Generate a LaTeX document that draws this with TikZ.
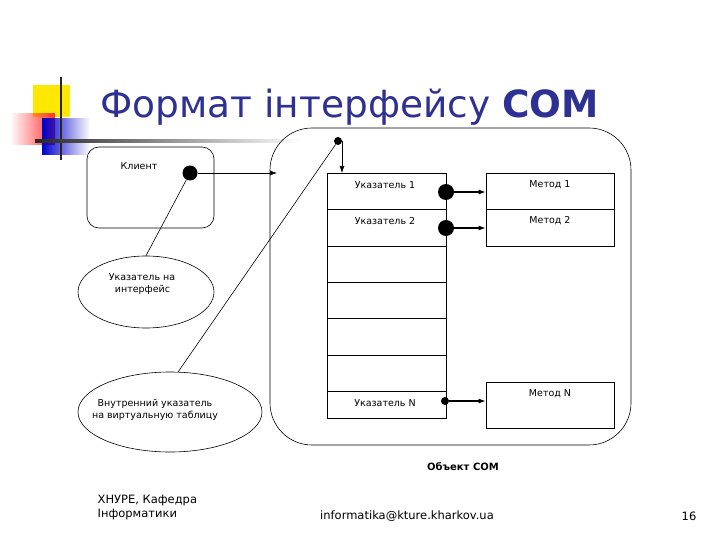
\documentclass[tikz,border=0pt]{standalone}
\usepackage{fontspec}
\setmainfont{DejaVu Sans}
\usetikzlibrary{arrows.meta,shapes.geometric,fadings}
\definecolor{ttl}{HTML}{2E3192}
\tikzset{
 lbl/.style={font=\fontsize{9.5}{11.5}\selectfont},
 dotn/.style={circle,fill=black,inner sep=0pt},
 arr/.style={-{Latex[length=7pt,width=5pt]}},
 cell/.style={draw,minimum width=119pt,inner sep=0pt},
}
\begin{document}
\begin{tikzpicture}[x=1pt,y=-1pt,line width=0.6pt]
\useasboundingbox (0,0) rectangle (720,540);
% logo
\fill[yellow!90!orange] (33,85) rectangle (70,117);
\fill[red!80, path fading=west] (10,113) rectangle (55,145);
\fill[blue!80!black, path fading=east] (42,118) rectangle (90,155);
\draw[line width=2pt,black!85] (61,77) -- (61,160);
\shade[left color=black!85,right color=white] (35,140) rectangle (300,142.5);
\node[anchor=base west,text=ttl,font=\fontsize{37.5}{44}\selectfont,inner sep=0pt] (title) at (100,118) {Формат інтерфейсу \textbf{COM}};
% client
\draw[rounded corners=12pt] (87,147) rectangle (214,228);
\node[lbl] (cl) at (139,166) {Клиент};
\node[dotn,minimum size=15pt] (cd) at (190,173) {};
% big object
\draw[rounded corners=42pt] (270,128) rectangle (631,445);
\coordinate (bl) at (277,173);
\draw[arr] (cd) -- (bl);
\node[dotn,minimum size=8pt] (sd) at (338,141) {};
% table
\foreach \i/\a/\b in {1/173/209,2/209/246,3/246/282,4/282/318,5/318/355,6/355/391,7/391/418}{
 \node[cell,minimum height={\b-\a}] (r\i) at (386.5,{(\a+\b)/2}) {};
}
\coordinate (t1) at (342,173);
\draw[arr] (sd) -| (t1);
\node[lbl] at (385,185) {Указатель 1};
\node[lbl] at (385,221) {Указатель 2};
\node[lbl] at (385,403) {Указатель N};
% methods
\node[cell,minimum width=128pt,minimum height=36pt] (m1) at (550,191) {};
\node[cell,minimum width=128pt,minimum height=37pt] (m2) at (550,227.5) {};
\node[cell,minimum width=128pt,minimum height=46pt] (mn) at (550,405) {};
\node[lbl] at (550,185) {Метод 1};
\node[lbl] at (550,221) {Метод 2};
\node[lbl] at (550,394) {Метод N};
\node[dotn,minimum size=16pt] (d1) at (446,192) {};
\node[dotn,minimum size=16pt] (d2) at (446,228) {};
\node[dotn,minimum size=8pt] (dn) at (445,401) {};
\draw[arr,line width=1.2pt] (d1) -- (d1 -| m1.west);
\draw[arr,line width=1.2pt] (d2) -- (d2 -| m2.west);
\draw[arr,line width=1.2pt] (dn) -- (dn -| mn.west);
% ellipses
\node[draw,ellipse,minimum width=136pt,minimum height=72pt,fill=white] (e1) at (146,292) {};
\node[lbl,align=left] at (142,284) {Указатель на\\\ \ интерфейс};
\node[draw,ellipse,minimum width=184pt,minimum height=80pt] (e2) at (170,412) {};
\node[lbl,align=center] at (155,410) {Внутренний указатель\\на виртуальную таблицу};
\draw (cd) -- (e1.north);
\draw (sd) -- (178,372);
\node[font=\fontsize{10}{12}\selectfont\bfseries] (obj) at (463,467) {Объект COM};
% footer
\node[font=\fontsize{11.5}{14}\selectfont,align=left,anchor=west] (f1) at (94,508) {ХНУРЕ, Кафедра\\Інформатики};
\node[font=\fontsize{11.5}{14}\selectfont] (f2) at (407,516) {informatika@kture.kharkov.ua};
\node[font=\fontsize{11.5}{14}\selectfont] (f3) at (689,516) {16};
\end{tikzpicture}
\end{document}
